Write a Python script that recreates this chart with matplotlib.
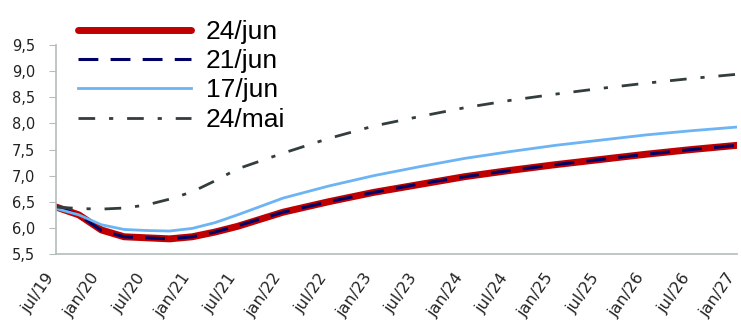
import matplotlib.pyplot as plt
from matplotlib.transforms import ScaledTranslation

# months since jul/19
months = [0, 3, 6, 9, 12, 15, 18, 21, 24, 30, 36, 42, 48, 54, 60, 66, 72, 78, 84, 90]
tick_labels = ['jul/19', 'jan/20', 'jul/20', 'jan/21', 'jul/21', 'jan/22', 'jul/22', 'jan/23',
               'jul/23', 'jan/24', 'jul/24', 'jan/25', 'jul/25', 'jan/26', 'jul/26', 'jan/27']

jun24 = [6.40, 6.25, 5.96, 5.83, 5.81, 5.79, 5.83, 5.92, 6.03, 6.30, 6.50, 6.68, 6.83,
         6.98, 7.10, 7.21, 7.31, 7.41, 7.50, 7.58]
jun21 = [6.40, 6.25, 5.95, 5.83, 5.81, 5.79, 5.83, 5.92, 6.04, 6.30, 6.50, 6.68, 6.84,
         6.98, 7.10, 7.21, 7.31, 7.41, 7.50, 7.58]
jun17 = [6.37, 6.25, 6.06, 5.97, 5.95, 5.94, 5.99, 6.10, 6.25, 6.57, 6.80, 7.00, 7.17,
         7.33, 7.46, 7.58, 7.68, 7.78, 7.86, 7.93]
mai24 = [6.40, 6.37, 6.36, 6.38, 6.44, 6.55, 6.69, 6.90, 7.13, 7.43, 7.71, 7.95, 8.13,
         8.30, 8.44, 8.56, 8.67, 8.77, 8.86, 8.94]

fig = plt.figure(figsize=(7.41, 3.36), dpi=100)
ax = fig.add_axes([0.0756, 0.244, 0.919, 0.622])

ax.plot(months, jun24, color='#c00000', lw=5, label='24/jun', solid_capstyle='round')
ax.plot(months, jun21, color='#000066', lw=2.2, dashes=(6.5, 4), label='21/jun')
ax.plot(months, jun17, color='#6cb4f4', lw=2, label='17/jun')
ax.plot(months, mai24, color='#333d3d', lw=2, dashes=(6, 5, 1.5, 5), label='24/mai')

ax.set_xlim(0, 90)
ax.set_ylim(5.5, 9.5)
ax.set_xticks(range(0, 91, 6))
ax.set_xticklabels(tick_labels, rotation=55, ha='right', va='center', rotation_mode='anchor',
                   fontsize=11.5, family='DejaVu Sans', color='#222222')
yt = [5.5 + 0.5 * i for i in range(9)]
ax.set_yticks(yt)
ax.set_yticklabels([f'{v:.1f}'.replace('.', ',') for v in yt], fontsize=10.5,
                   family='DejaVu Sans', color='#222222')

for s in ['top', 'right']:
    ax.spines[s].set_visible(False)
for s in ['left', 'bottom']:
    ax.spines[s].set_color('#b4bcbc')
    ax.spines[s].set_linewidth(1.2)
ax.tick_params(axis='y', length=5, color='#b4bcbc', pad=10)
ax.tick_params(axis='x', length=0, pad=15)

# nudge the rotated labels a little left so the last one stays inside
# (after tick_params, which resets the label transforms)
shift = ScaledTranslation(-5 / 100, 0, fig.dpi_scale_trans)
for lbl in ax.get_xticklabels():
    lbl.set_transform(lbl.get_transform() + shift)

fig.legend(loc='upper left', bbox_to_anchor=(0.087, 0.98), frameon=False,
           prop={'family': 'Liberation Sans', 'size': 19}, handlelength=4.3,
           handletextpad=0.55, labelspacing=0.2, borderpad=0)

fig.savefig('out.png', dpi=100)
